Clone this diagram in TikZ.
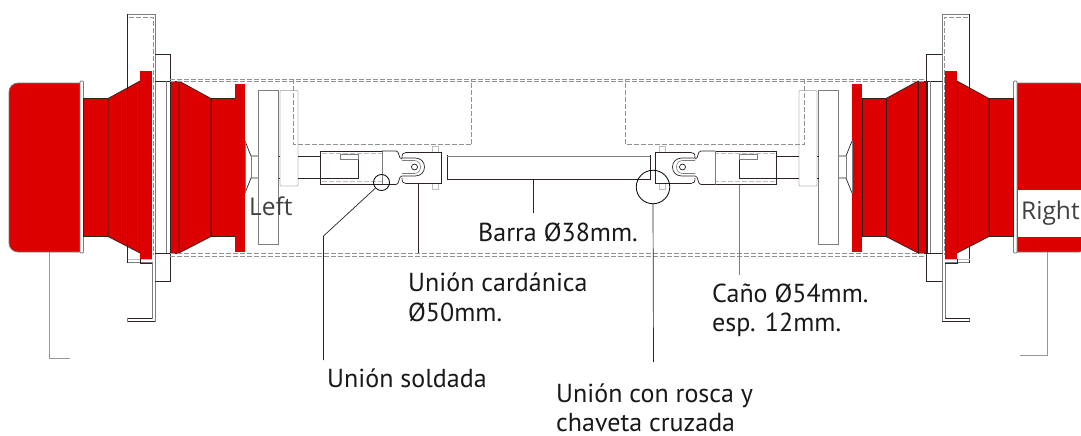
\documentclass[tikz,border=0pt]{standalone}
\usepackage{fontspec}
\setmainfont{Open Sans}
\newfontfamily\calloutfont{PT Sans}
\definecolor{axlered}{RGB}{220,0,0}
\definecolor{outl}{RGB}{45,35,35}
\definecolor{midgray}{RGB}{125,125,125}
\definecolor{dashgray}{RGB}{145,145,145}
\definecolor{lightgray}{RGB}{190,190,190}
\tikzset{
	redpart/.style={fill=axlered,draw=outl,line width=.7pt},
	redflange/.style={fill=axlered,draw=none},
	thinline/.style={draw=outl,line width=.7pt},
	grayline/.style={draw=midgray,line width=.8pt},
	paleline/.style={draw=lightgray,line width=.9pt},
	hidden/.style={draw=dashgray,line width=.6pt,dash pattern=on 5pt off 2pt},
	leader/.style={draw=outl,line width=.7pt},
	paleleader/.style={draw=midgray!80,line width=.6pt},
	ring/.style={circle,draw=black,line width=.8pt,inner sep=0pt},
	callout/.style={font=\calloutfont\fontsize{26}{29.2}\selectfont,inner sep=0pt,align=left,text=black!90},
	sidetag/.style={font=\fontsize{24.5}{28}\selectfont,inner sep=0pt,text=black!75}
}
\begin{document}
\begin{tikzpicture}[x=1pt,y=-1pt]
	\clip (0,0) rectangle (1081,436);
	\fill[white] (0,0) rectangle (1081,436);

	\foreach \flip/\off in {1/0,-1/1097}{
	\begin{scope}[shift={(\off,0)},xscale=\flip]
		% drum and bellows
		\draw[redpart,draw=midgray,rounded corners=9pt] (80,83) -- (9,83) -- (9,252) -- (80,252);
		\draw[grayline,fill=white,rounded corners=1pt] (80,81) rectangle (83.5,253);
		\draw[redpart] (83.5,98.5) rectangle (108,236.5);
		\draw[redpart] (108,98.5) -- (140,81) -- (140,253) -- (108,236.5) -- cycle;
		\draw[redpart] (170,81) rectangle (179,253);
		\draw[redpart] (179,81) -- (211,98.5) -- (211,236.5) -- (179,253) -- cycle;
		\draw[redpart] (211,98.5) rectangle (235,236.5);
		\fill[redflange] (235,84) rectangle (245,252);

		% mounting plate
		\draw[grayline] (127.5,14) -- (155,14) -- (155,321.5) -- (127.5,321.5) -- (127.5,318.5) -- (152,318.5) -- (152,262.5) -- (127.5,262.5) -- (127.5,14);
		\draw[thinline] (127.5,14) -- (127.5,262.5) (127.5,318.5) -- (152,318.5) (127.5,321.5) -- (155,321.5);
		\draw[hidden] (129,17.5) -- (153,17.5) -- (153,255);
		\draw[paleline] (127.5,259) -- (152,259);
		\fill[redflange] (140,71) rectangle (152,259);
		\draw[thinline] (140,259) -- (140,263) -- (152,263);

		% spacer
		\draw[thinline] (155,54) -- (170.5,54) -- (170.5,281) -- (155,281);
		\draw[thinline] (155,81) -- (170,81) (155,253) -- (170,253);
		\draw[grayline] (166.5,81) -- (166.5,253);

		% hub and discs
		\draw[thinline] (245,141) -- (251,156) -- (258.5,156) (245,193) -- (251,178) -- (258.5,178);
		\draw[grayline] (251,156) -- (251,178) (245,141) -- (245,193);
		\draw[grayline,fill=white] (258.5,90.5) rectangle (278.5,244.5);
		\draw[paleline,fill=white,rounded corners=1pt] (280,90.5) rectangle (298,186);
		\draw[thinline] (278.5,156) -- (280,156) (278.5,178) -- (280,178);
		\draw[hidden] (293,79) -- (293,144.5) -- (471.5,144.5) -- (471.5,79);
		\draw[thinline] (298,156) -- (320.5,156) (298,178) -- (320.5,178);

		% tube
		\draw[thinline,line width=.9pt] (382,151) -- (320.5,151) -- (320.5,184.5) -- (382,184.5);
		\draw[thinline] (358,159) -- (358,178) -- (320.5,178);
		\draw[hidden,draw=lightgray] (322,153.5) -- (382,153.5) (322,181.5) -- (382,181.5);
		\draw[grayline] (340,159) -- (340,154.5) -- (358,154.5) -- (358,159) -- cycle;
		\draw[grayline] (382,151) -- (382,184.5);

		% cardan joint
		\draw[thinline] (382,151) -- (396,151) .. controls (400,151) and (398,159) .. (402,159);
		\draw[thinline] (382,184.5) -- (396,184.5) .. controls (400,184.5) and (398,176) .. (402,176);
		\draw[paleline,line width=.7pt,fill=white] (432,146) rectangle (438,189);
		\draw[thinline,fill=white] (402,158) .. controls (402,154) and (403,152.5) .. (406,152.5) -- (441.5,152.5) -- (441.5,183.5) -- (406,183.5) .. controls (403,183.5) and (402,182) .. (402,178);
		\draw[thinline] (402,158) -- (415,158) .. controls (421,158) and (424.5,162) .. (424.5,167) .. controls (424.5,172) and (421,176) .. (415,176) -- (402,176);
		\draw[grayline,line width=.6pt] (402,160.5) -- (414,160.5) .. controls (418,160.5) and (420.5,163) .. (420.5,167) .. controls (420.5,171) and (418,173.5) .. (414,173.5) -- (402,173.5);
		\node[ring,minimum size=6pt,line width=.6pt] (pin\off) at (414.5,167) {};
	\end{scope}
	}

	% long hidden outline
	\draw[hidden] (170,79) -- (926,79) (170,81.5) -- (926,81.5) (170,253) -- (926,253) (170,256) -- (926,256);

	% bar
	\draw[thinline] (447,156) -- (650,156) (447,179) -- (650,179) (447,155) -- (447,180) (650,155) -- (650,180);
	\draw[grayline] (447,156) -- (650,156);

	% red drum on the right, cut for its tag
	\fill[white] (1017.5,190) rectangle (1081,236.7);
	\node[sidetag,anchor=base west] (leftTag) at (249,215) {Left};
	\node[sidetag,anchor=base west] (rightTag) at (1021,219) {Right};

	% leaders
	\node[ring,minimum size=16pt] (weldRing) at (381.5,182.5) {};
	\node[ring,minimum size=33.5pt] (threadRing) at (653,187) {};
	\path
		(323.5,236) coordinate (weldBend)
		(323.5,360) coordinate (weldEnd)
		(418,184) coordinate (cardanTop)
		(418,253) coordinate (cardanEnd)
		(533,179) coordinate (barTop)
		(533,213) coordinate (barEnd)
		(653.5,362) coordinate (threadEnd)
		(739,184.5) coordinate (tubeTop)
		(739,275) coordinate (tubeEnd)
		(49.5,252) coordinate (leftTop)
		(49.5,358.5) coordinate (leftBend)
		(70,358.5) coordinate (leftEnd)
		(1047,252) coordinate (rightTop)
		(1047,355) coordinate (rightBend)
		(1020,355) coordinate (rightEnd)
		;
	\draw[leader] (weldRing) -- (weldBend) -- (weldEnd);
	\draw[leader] (cardanTop) -- (cardanEnd);
	\draw[leader] (barTop) -- (barEnd);
	\draw[leader] (threadRing.south) -- (threadEnd);
	\draw[leader,draw=midgray] (tubeTop) -- (tubeEnd);
	\draw[paleleader] (leftTop) -- (leftBend) -- (leftEnd);
	\draw[paleleader] (rightTop) -- (rightBend) -- (rightEnd);

	% labels
	\node[callout,anchor=base west] (barLabel) at (478,241) {Barra Ø38mm.};
	\node[callout,anchor=north west] (cardanLabel) at (408,273) {Unión cardánica\\Ø50mm.};
	\node[callout,anchor=north west] (tubeLabel) at (712,284) {Caño Ø54mm.\\esp. 12mm.};
	\node[callout,anchor=base west] (weldLabel) at (327,387) {Unión soldada};
	\node[callout,anchor=base west] (threadLabel) at (556,402) {Unión con rosca y};
	\node[callout,anchor=base west] (threadLabelB) at (556,431) {chaveta cruzada};
\end{tikzpicture}
\end{document}
